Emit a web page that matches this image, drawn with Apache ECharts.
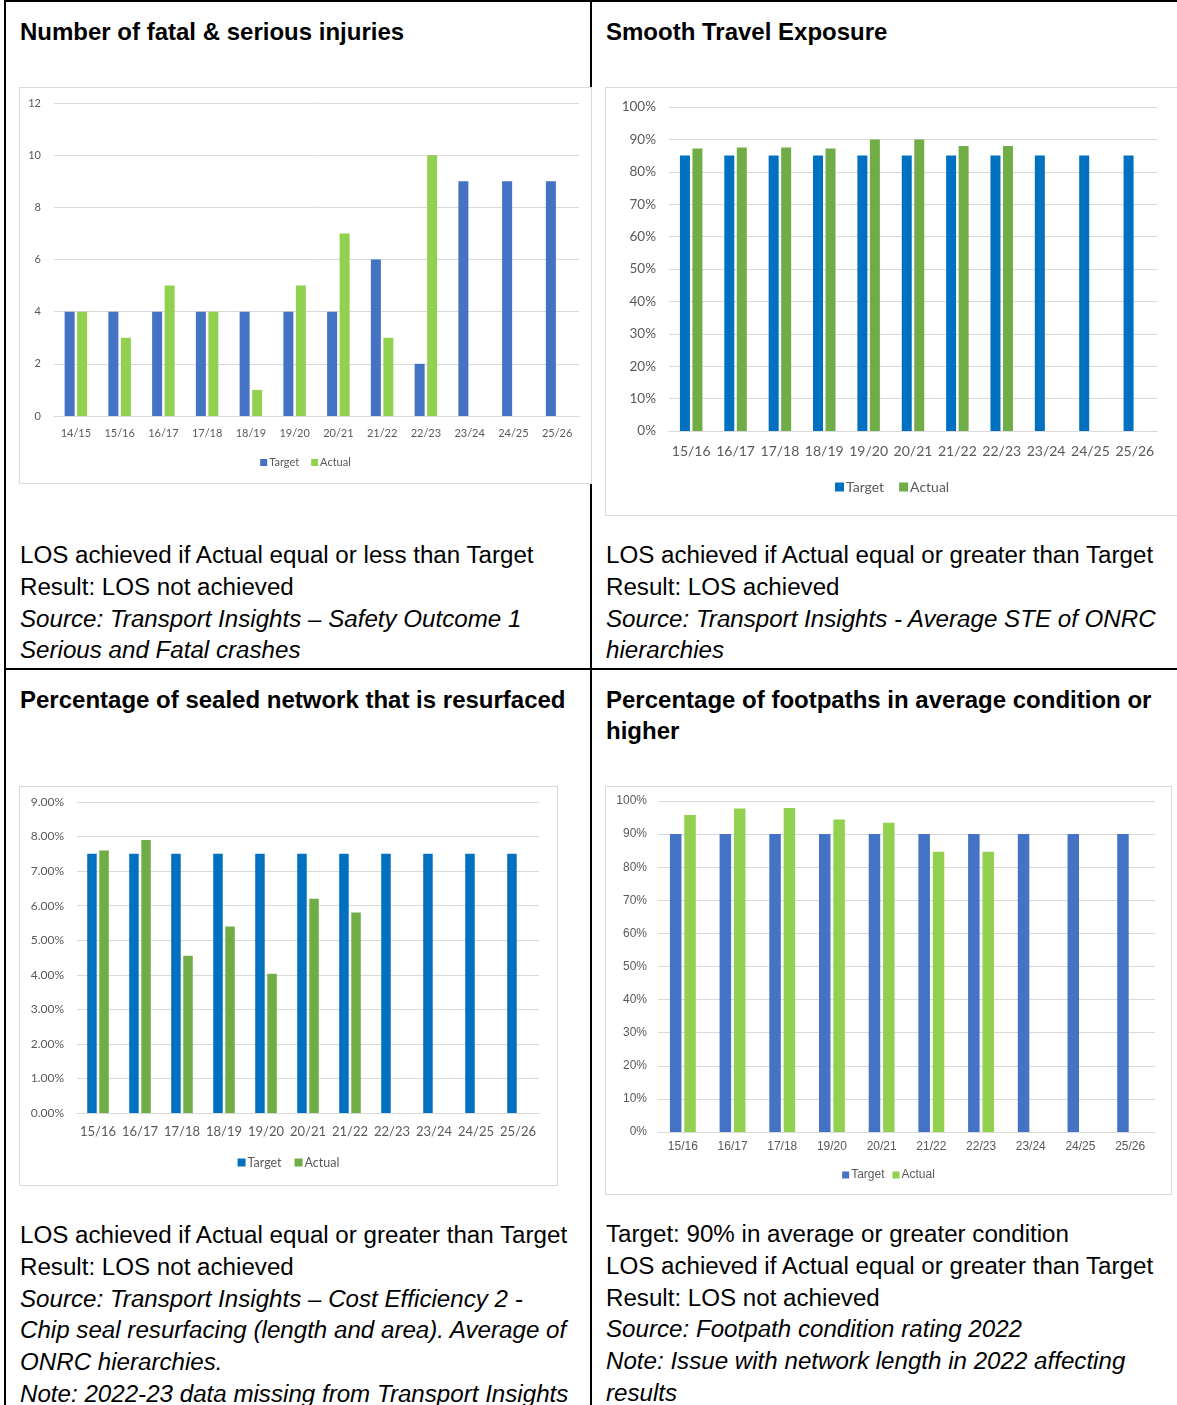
<!DOCTYPE html>
<html>
<head>
<meta charset="utf-8">
<script src="https://cdn.jsdelivr.net/npm/echarts@6/dist/echarts.min.js"></script>
<style>
  html, body { margin: 0; padding: 0; background: #fff; }
  body { width: 1177px; height: 1405px; position: relative; overflow: hidden;
         font-family: "Liberation Sans", Arial, sans-serif; color: #000; }
  .rule { position: absolute; background: #000; }
  .title { position: absolute; font-weight: bold; font-size: 24px; line-height: 31px; white-space: nowrap; }
  .note { position: absolute; font-size: 24.15px; line-height: 31.8px; white-space: nowrap; }
  .note i { font-style: italic; }
  .box { position: absolute; border: 1px solid #D9D9D9; background: #fff; box-sizing: border-box; }
  .box > div { position: absolute; left: 0; top: 0; width: 100%; height: 100%; }
</style>
</head>
<body>

<!-- table rules -->
<div class="rule" style="left:4px;top:0;width:2px;height:1405px"></div>
<div class="rule" style="left:4px;top:0;width:1173px;height:2px"></div>
<div class="rule" style="left:590px;top:0;width:2px;height:1405px"></div>
<div class="rule" style="left:4px;top:668px;width:1173px;height:2px"></div>

<!-- cell titles -->
<div class="title" style="left:20px;top:16px">Number of fatal &amp; serious injuries</div>
<div class="title" style="left:606px;top:16px">Smooth Travel Exposure</div>
<div class="title" style="left:20px;top:684px">Percentage of sealed network that is resurfaced</div>
<div class="title" style="left:606px;top:684px">Percentage of footpaths in average condition or<br>higher</div>

<!-- chart boxes -->
<div class="box" style="left:19px;top:87px;width:573px;height:397px"><div id="c1"></div></div>
<div class="box" style="left:605px;top:87px;width:580px;height:429px"><div id="c2"></div></div>
<div class="box" style="left:19px;top:786px;width:539px;height:400px"><div id="c3"></div></div>
<div class="box" style="left:605px;top:786px;width:567px;height:409px"><div id="c4"></div></div>

<!-- notes -->
<div class="note" style="left:20px;top:539px">LOS achieved if Actual equal or less than Target<br>Result: LOS not achieved<br><i>Source: Transport Insights – Safety Outcome 1<br>Serious and Fatal crashes</i></div>
<div class="note" style="left:606px;top:539px">LOS achieved if Actual equal or greater than Target<br>Result: LOS achieved<br><i>Source: Transport Insights - Average STE of ONRC<br>hierarchies</i></div>
<div class="note" style="left:20px;top:1219px">LOS achieved if Actual equal or greater than Target<br>Result: LOS not achieved<br><i>Source: Transport Insights – Cost Efficiency 2 -<br>Chip seal resurfacing (length and area). Average of<br>ONRC hierarchies.<br>Note: 2022-23 data missing from Transport Insights</i></div>
<div class="note" style="left:606px;top:1218px">Target: 90% in average or greater condition<br>LOS achieved if Actual equal or greater than Target<br>Result: LOS not achieved<br><i>Source: Footpath condition rating 2022<br>Note: Issue with network length in 2022 affecting<br>results</i></div>

<script>
// Fatal & serious injuries
const injuryYears = ['14/15','15/16','16/17','17/18','18/19','19/20','20/21','21/22','22/23','23/24','24/25','25/26'];
const injuryTarget = [4, 4, 4, 4, 4, 4, 4, 6, 2, 9, 9, 9];
const injuryActual = [4, 3, 5, 4, 1, 5, 7, 3, 10, null, null, null];

// Smooth travel exposure (%)
const steYears = ['15/16','16/17','17/18','18/19','19/20','20/21','21/22','22/23','23/24','24/25','25/26'];
const steTarget = [85, 85, 85, 85, 85, 85, 85, 85, 85, 85, 85];
const steActual = [87.2, 87.5, 87.5, 87.2, 90, 90, 88, 88, null, null, null];

// Sealed network resurfaced (%)
const resealYears = ['15/16','16/17','17/18','18/19','19/20','20/21','21/22','22/23','23/24','24/25','25/26'];
const resealTarget = [7.5, 7.5, 7.5, 7.5, 7.5, 7.5, 7.5, 7.5, 7.5, 7.5, 7.5];
const resealActual = [7.6, 7.9, 4.55, 5.4, 4.03, 6.2, 5.8, null, null, null, null];

// Footpaths in average condition or better (%)
const footYears = ['15/16','16/17','17/18','19/20','20/21','21/22','22/23','23/24','24/25','25/26'];
const footTarget = [90, 90, 90, 90, 90, 90, 90, 90, 90, 90];
const footActual = [95.8, 97.7, 97.9, 94.4, 93.4, 84.7, 84.7, null, null, null];

function barChart(el, cfg) {
  const chart = echarts.init(document.getElementById(el), null, { renderer: 'canvas' });
  const txt = { color: '#595959', fontFamily: cfg.font, fontSize: cfg.yFont };
  chart.setOption({
    animation: false,
    textStyle: { fontFamily: cfg.font },
    grid: cfg.grid,
    legend: {
      data: ['Target', 'Actual'],
      top: cfg.legendTop, left: cfg.legendLeft,
      icon: 'rect', itemWidth: cfg.legendIcon, itemHeight: cfg.legendIcon, itemGap: cfg.legendGap,
      textStyle: { color: '#595959', fontFamily: cfg.font, fontSize: cfg.legendFont, padding: [0, 0, 0, -3] }
    },
    xAxis: {
      type: 'category', data: cfg.categories,
      axisLine: { lineStyle: { color: '#D9D9D9', width: 1 } },
      axisTick: { show: false },
      axisLabel: { color: '#595959', fontFamily: cfg.font, fontSize: cfg.xFont, margin: cfg.xMargin, interval: 0 }
    },
    yAxis: {
      type: 'value', min: 0, max: cfg.max, interval: cfg.interval,
      axisLine: { show: false }, axisTick: { show: false },
      splitLine: { lineStyle: { color: '#D9D9D9', width: 1 } },
      axisLabel: Object.assign({ margin: cfg.yMargin, formatter: cfg.fmt }, txt)
    },
    series: [
      { name: 'Target', type: 'bar', data: cfg.target, barWidth: cfg.barWidth, barGap: cfg.barGap,
        itemStyle: { color: cfg.colors[0] } },
      { name: 'Actual', type: 'bar', data: cfg.actual, barWidth: cfg.barWidth, barGap: cfg.barGap,
        itemStyle: { color: cfg.colors[1] } }
    ]
  });
}

barChart('c1', {
  categories: injuryYears, target: injuryTarget, actual: injuryActual,
  colors: ['#4472C4', '#92D050'], font: 'Lato',
  grid: { left: 34, top: 15, width: 525, height: 313 },
  max: 12, interval: 2, fmt: '{value}',
  yFont: 11, xFont: 11, yMargin: 13, xMargin: 12,
  legendTop: 364, legendLeft: 'center', legendIcon: 7, legendGap: 12, legendFont: 11,
  barWidth: 10, barGap: '25%'
});

barChart('c2', {
  categories: steYears, target: steTarget, actual: steActual,
  colors: ['#0070C0', '#70AD47'], font: 'Lato',
  grid: { left: 63, top: 19, width: 488, height: 324 },
  max: 100, interval: 10, fmt: '{value}%',
  yFont: 13.5, xFont: 14, yMargin: 13, xMargin: 13,
  legendTop: 387, legendLeft: 224, legendIcon: 9, legendGap: 15, legendFont: 14,
  barWidth: 10, barGap: '25%'
});

barChart('c3', {
  categories: resealYears, target: resealTarget, actual: resealActual,
  colors: ['#0070C0', '#70AD47'], font: 'Lato',
  grid: { left: 57, top: 15, width: 462, height: 311 },
  max: 9, interval: 1, fmt: v => v.toFixed(2) + '%',
  yFont: 12, xFont: 13, yMargin: 13, xMargin: 12,
  legendTop: 364, legendLeft: 'center', legendIcon: 8, legendGap: 13, legendFont: 12.5,
  barWidth: 9.5, barGap: '27%'
});

barChart('c4', {
  categories: footYears, target: footTarget, actual: footActual,
  colors: ['#4472C4', '#92D050'], font: '"Liberation Sans", Arial',
  grid: { left: 52, top: 14, width: 497, height: 331 },
  max: 100, interval: 10, fmt: '{value}%',
  yFont: 12, xFont: 12, yMargin: 11, xMargin: 9,
  legendTop: 377, legendLeft: 'center', legendIcon: 7, legendGap: 8, legendFont: 12,
  barWidth: 11.5, barGap: '25%'
});
</script>
</body>
</html>
